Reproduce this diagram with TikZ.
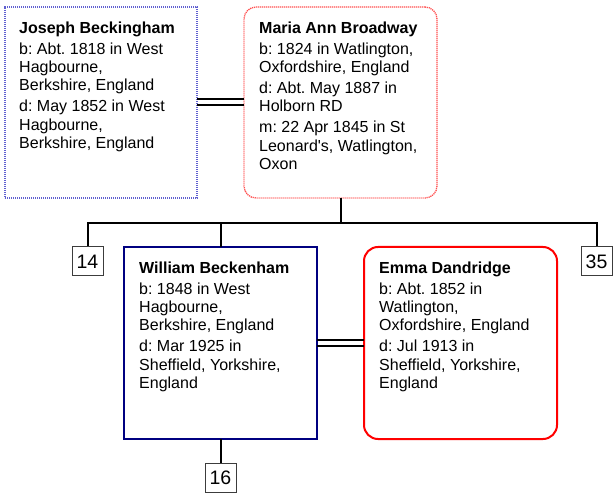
\documentclass[tikz,border=0pt]{standalone}
\usepackage{fontspec}
\newfontfamily\arial{Liberation Sans}
\usetikzlibrary{calc}
\definecolor{jblue}{RGB}{96,96,208}
\definecolor{mred}{RGB}{255,80,80}
\definecolor{wnavy}{RGB}{0,0,128}
\definecolor{ered}{RGB}{255,0,0}
\definecolor{numgray}{RGB}{60,60,60}
\tikzset{
  person/.style={anchor=north west, inner sep=0pt, outer sep=0pt, fill=white},
  jbox/.style={person, draw=jblue, line width=1.3pt, dash pattern=on 1.2pt off 0.8pt},
  mbox/.style={person, draw=mred, line width=1.3pt, dash pattern=on 1.2pt off 0.8pt, rounded corners=12pt},
  wbox/.style={person, draw=wnavy, line width=2pt},
  ebox/.style={person, draw=ered, line width=2pt, rounded corners=14pt},
  info/.style={anchor=north west, inner sep=0pt, align=left, font=\arial\frenchspacing\fontsize{16}{18.4}\selectfont},
  numbox/.style={draw=numgray, line width=1pt, fill=white, inner sep=0pt, minimum width=31pt, minimum height=29pt, font=\arial\fontsize{19.5}{22}\selectfont},
  tree/.style={line width=2pt, black},
  marr/.style={line width=2pt, black}
}
\begin{document}
\begin{tikzpicture}[x=1pt, y=-1pt]
\useasboundingbox[fill=white] (0,0) rectangle (613,494);
% boxes
\node[jbox, minimum width=192pt, minimum height=191pt] (jos) at (5,7) {};
\node[mbox, minimum width=193pt, minimum height=191pt] (mar) at (244,7) {};
\node[wbox, minimum width=193pt, minimum height=192pt] (wil) at (124,247) {};
\node[ebox, minimum width=193pt, minimum height=192pt] (emm) at (364,247) {};
% texts
\node[info] (josT) at ($(jos.north west)+(14,14.5)$) {\textbf{Joseph Beckingham}\\[2.5pt]
b: Abt. 1818 in West\\ Hagbourne,\\ Berkshire, England\\[2.5pt]
d: May 1852 in West\\ Hagbourne,\\ Berkshire, England};
\node[info] (marT) at ($(mar.north west)+(15,14.5)$) {\textbf{Maria Ann Broadway}\\[2.5pt]
b: 1824 in Watlington,\\ Oxfordshire, England\\[2.5pt]
d: Abt. May 1887 in\\ Holborn RD\\[2.5pt]
m: 22 Apr 1845 in St\\ Leonard's, Watlington,\\ Oxon};
\node[info] (wilT) at ($(wil.north west)+(15,14.5)$) {\textbf{William Beckenham}\\[2.5pt]
b: 1848 in West\\ Hagbourne,\\ Berkshire, England\\[2.5pt]
d: Mar 1925 in\\ Sheffield, Yorkshire,\\ England};
\node[info] (emmT) at ($(emm.north west)+(15,14.5)$) {\textbf{Emma Dandridge}\\[2.5pt]
b: Abt. 1852 in\\ Watlington,\\ Oxfordshire, England\\[2.5pt]
d: Jul 1913 in\\ Sheffield, Yorkshire,\\ England};
% number boxes
\node[numbox] (n14) at (87.5,261.5) {14};
\node[numbox] (n35) at (596.5,261.5) {35};
\node[numbox, anchor=north] (n16) at ($(wil.south)+(0,24)$) {16};
% marriages
\draw[marr] ($(jos.east)+(0,-3)$) -- ($(mar.west)+(0,-3)$);
\draw[marr] ($(jos.east)+(0,3)$) -- ($(mar.west)+(0,3)$);
\draw[marr] ($(wil.east)+(0,-3)$) -- ($(emm.west)+(0,-3)$);
\draw[marr] ($(wil.east)+(0,3)$) -- ($(emm.west)+(0,3)$);
% tree
\coordinate (bar) at (340.5,223);
\draw[tree] (mar.south) -- (mar.south |- bar);
\draw[tree] (n14.north) -- (n14.north |- bar) -- (n35.north |- bar) -- (n35.north);
\draw[tree] (wil.north) -- (wil.north |- bar);
\draw[tree] (wil.south) -- (n16.north);
\end{tikzpicture}
\end{document}
